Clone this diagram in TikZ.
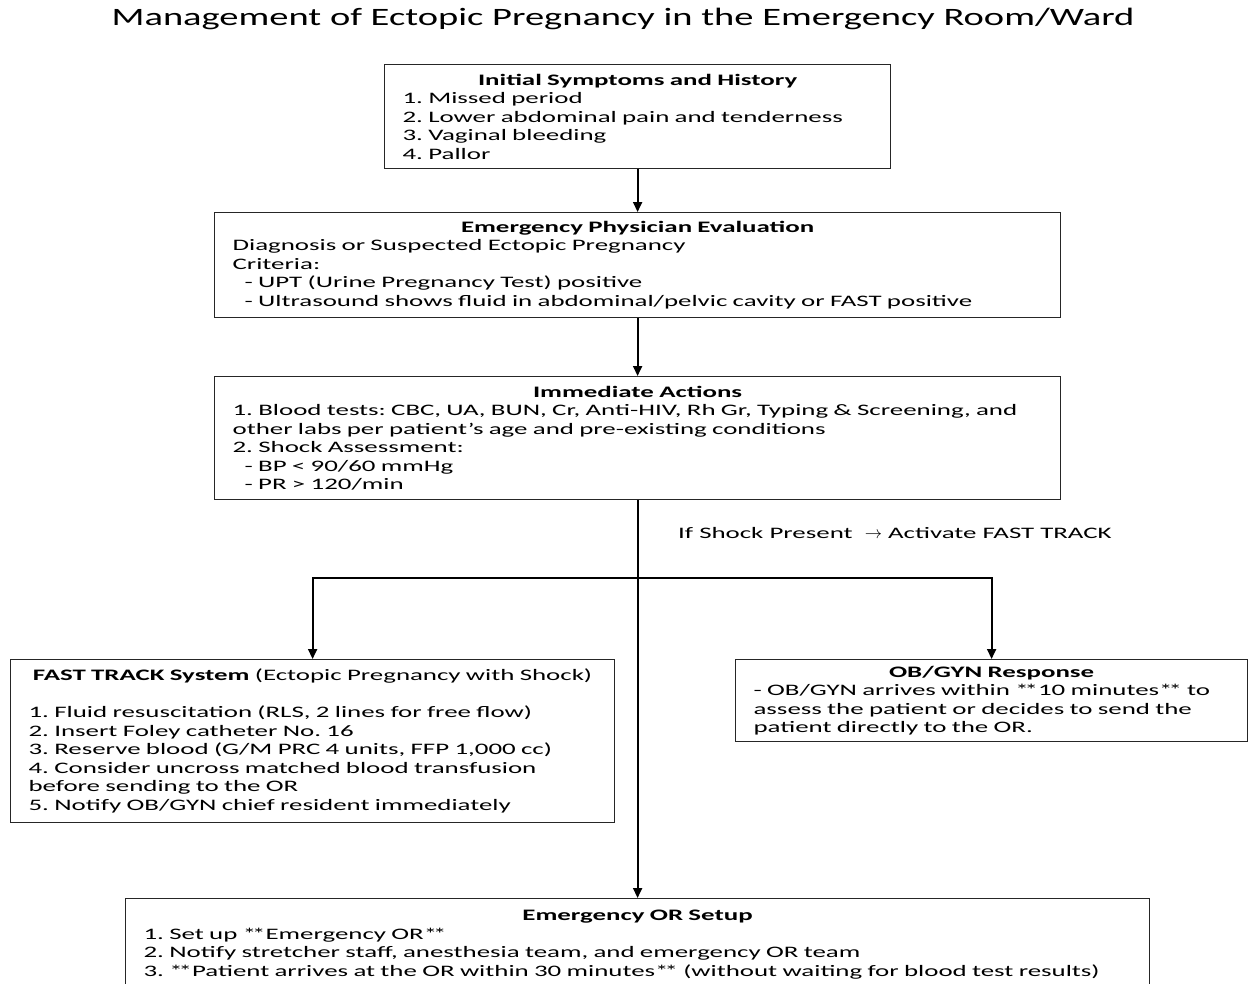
\documentclass[tikz,border=0pt]{standalone}
\usepackage{fontspec}
\setmainfont{Carlito}
\newfontfamily\bodyfont[FakeStretch=1.68]{Carlito}
\newfontfamily\titlefont[FakeStretch=1.54]{Carlito}
\usetikzlibrary{arrows.meta}
\frenchspacing
\tikzset{
  box/.style={draw=black!85, line width=1.2pt, rectangle, inner xsep=18pt, inner ysep=0pt,
    anchor=north west, align=left, font=\bodyfont\fontsize{16}{18.5}\selectfont\frenchspacing},
  conn/.style={line width=1.8pt, -{Triangle[length=10pt,width=9pt]}},
  lbl/.style={font=\bodyfont\fontsize{16}{18.5}\selectfont, inner sep=0pt},
}
\newcommand{\hdr}[1]{\makebox[\hsize][c]{\bfseries #1}}
\newcommand{\dstar}{*\kern-4pt*}
\begin{document}
\begin{tikzpicture}[x=1pt,y=-1pt]
\useasboundingbox (0,0) rectangle (1248,983);

\node[font=\titlefont\fontsize{25}{30}\selectfont, inner sep=0pt] (title) at (623,19)
  {Management of Ectopic Pregnancy in the Emergency Room/Ward};

\node[box, text width=470pt, minimum height=104pt] (init) at (384,64)
  {\hdr{Initial Symptoms and History}\\
   1. Missed period\\
   2. Lower abdominal pain and tenderness\\
   3. Vaginal bleeding\\
   4. Pallor};

\node[box, text width=810pt, minimum height=105pt] (eval) at (214,212)
  {\hdr{Emergency Physician Evaluation}\\
   Diagnosis or Suspected Ectopic Pregnancy\\
   Criteria:\\
   \hspace*{12pt}- UPT (Urine Pregnancy Test) positive\\
   \hspace*{12pt}- Ultrasound shows fluid in abdominal/pelvic cavity or FAST positive};

\node[box, text width=810pt, minimum height=123pt] (act) at (214,376)
  {\hdr{Immediate Actions}\\
   1. Blood tests: CBC, UA, BUN, Cr, Anti-HIV, Rh Gr, Typing \& Screening, and\\
   other labs per patient’s age and pre-existing conditions\\
   2. Shock Assessment:\\
   \hspace*{12pt}- BP < 90/60 mmHg\\
   \hspace*{12pt}- PR > 120/min};

\node[lbl, anchor=west] (shock) at (678,533)
  {If Shock Present \ $\rightarrow$ Activate FAST TRACK};

\coordinate (split) at (637,578);

\node[box, text width=568pt, minimum height=163pt] (fast) at (10,659)
  {\makebox[\hsize][c]{\textbf{FAST TRACK System} (Ectopic Pregnancy with Shock)}\\[18.5pt]
   1. Fluid resuscitation (RLS, 2 lines for free flow)\\
   2. Insert Foley catheter No. 16\\
   3. Reserve blood (G/M PRC 4 units, FFP 1,000 cc)\\
   4. Consider uncross matched blood transfusion\\
   before sending to the OR\\
   5. Notify OB/GYN chief resident immediately};

\node[box, text width=476pt, minimum height=82pt] (ob) at (735,659)
  {\hdr{OB/GYN Response}\\
   - OB/GYN arrives within \dstar10 minutes\dstar{} to\\
   assess the patient or decides to send the\\
   patient directly to the OR.};

\node[box, text width=988pt, minimum height=92pt] (orsetup) at (125,898)
  {\hdr{Emergency OR Setup}\\
   1. Set up \dstar Emergency OR\dstar\\
   2. Notify stretcher staff, anesthesia team, and emergency OR team\\
   3. \dstar Patient arrives at the OR within 30 minutes\dstar{} (without waiting for blood test results)};

\draw[conn] (init.south) -- (eval.north);
\draw[conn] (eval.south) -- (act.north);
\draw[conn] (act.south) -- (orsetup.north);
\draw[conn] (split) -| (fast.north);
\draw[conn] (split) -| (ob.north);
\end{tikzpicture}
\end{document}
